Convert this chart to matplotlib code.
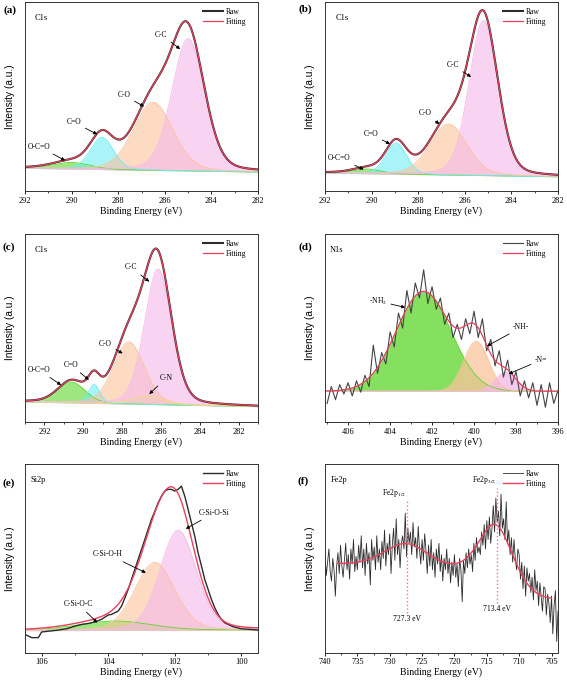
import numpy as np
import matplotlib
matplotlib.use('Agg')
import matplotlib.pyplot as plt
from matplotlib.ticker import MultipleLocator

plt.rcParams['font.family'] = 'serif'
plt.rcParams['font.serif'] = ['Liberation Serif', 'DejaVu Serif']
plt.rcParams['mathtext.fontset'] = 'stix'

# ---- data (intensity in fractions of the panel height) ----
# (a) C1s
a_names = ['O-C=O', 'C=O', 'C-O', 'C-C']
a_center = [290.0, 288.7, 286.5, 285.0]
a_height = [0.035, 0.17, 0.36, 0.70]
a_width = [0.8, 0.5, 0.85, 0.7]
a_base = [0.12, 0.10]

# (b) C1s
b_names = ['O-C=O', 'C=O', 'C-O', 'C-C']
b_center = [290.2, 288.95, 286.7, 285.2]
b_height = [0.025, 0.165, 0.27, 0.82]
b_width = [0.6, 0.45, 0.8, 0.62]
b_base = [0.095, 0.075]

# (c) C1s
c_names = ['O-C=O', 'C=O', 'C-O', 'C-N', 'C-C']
c_center = [290.6, 289.45, 287.65, 286.7, 286.15]
c_height = [0.11, 0.10, 0.33, 0.045, 0.72]
c_width = [0.7, 0.3, 0.8, 0.8, 0.7]
c_base = [0.108, 0.083]

# (d) N1s
d_names = ['-NH$_2$', '-NH-', '-N=']
d_center = [402.4, 399.9, 398.5]
d_height = [0.53, 0.265, 0.10]
d_width = [1.3, 0.6, 0.5]
d_base = [0.165, 0.165]
d_raw = [0.10, 0.19, 0.12, 0.20, 0.15, 0.21, 0.14, 0.22, 0.16, 0.25,
         0.19, 0.41, 0.26, 0.37, 0.31, 0.48, 0.40, 0.58, 0.50, 0.70,
         0.58, 0.74, 0.66, 0.81, 0.63, 0.72, 0.60, 0.66, 0.52, 0.58,
         0.45, 0.52, 0.44, 0.55, 0.47, 0.59, 0.45, 0.55, 0.38, 0.44,
         0.30, 0.38, 0.24, 0.33, 0.20, 0.27, 0.14, 0.22, 0.13, 0.21,
         0.09, 0.20, 0.08, 0.21, 0.10, 0.17]

# (e) Si2p
e_names = ['C-Si-O-C', 'C-Si-O-H', 'C-Si-O-Si']
e_center = [103.8, 102.6, 101.9]
e_height = [0.05, 0.36, 0.53]
e_width = [1.1, 0.6, 0.55]
e_base = [0.117, 0.12]
e_raw_x = [106.5, 106.3, 106.1, 106.0, 105.75, 105.5, 105.25, 105.0, 104.8, 104.6,
           104.4, 104.2, 104.0, 103.9, 103.8, 103.7, 103.6, 103.5, 103.4, 103.3,
           103.2, 103.1, 103.0, 102.9, 102.8, 102.7, 102.6, 102.5, 102.4, 102.3,
           102.2, 102.1, 102.0, 101.9, 101.8, 101.7, 101.6, 101.5, 101.4, 101.3,
           101.2, 101.1, 101.0, 100.9, 100.8, 100.7, 100.6, 100.5, 100.25, 100.0,
           99.75, 99.5]
e_raw = [0.097, 0.080, 0.080, 0.11, 0.115, 0.12, 0.127, 0.141, 0.150, 0.155,
         0.163, 0.177, 0.20, 0.203, 0.212, 0.221, 0.247, 0.29, 0.336, 0.389,
         0.442, 0.495, 0.548, 0.60, 0.654, 0.707, 0.75, 0.795, 0.83, 0.857,
         0.866, 0.866, 0.857, 0.866, 0.883, 0.83, 0.76, 0.689, 0.618, 0.53,
         0.46, 0.389, 0.336, 0.283, 0.239, 0.203, 0.177, 0.159, 0.138, 0.127,
         0.124, 0.12]

# (f) Fe2p
f_peaks = [727.3, 713.4]
f_center = [727.5, 713.6]
f_height = [0.13, 0.29]
f_width = [3.5, 2.6]
f_bg_low, f_bg_high, f_bg_slope, f_step_at, f_step_w = 0.27, 0.43, 0.002, 711.0, 2.0
f_raw = [0.52, 0.41, 0.48, 0.55, 0.43,  0.38, 0.50, 0.44, 0.30, 0.46,
         0.53, 0.42, 0.57, 0.46, 0.40,  0.49, 0.58, 0.44, 0.52, 0.39,
         0.55, 0.47, 0.60, 0.43, 0.51,  0.44, 0.57, 0.48, 0.62, 0.45,
         0.55, 0.41, 0.58, 0.47, 0.53,  0.36, 0.60, 0.49, 0.56, 0.44,
         0.62, 0.48, 0.55, 0.44, 0.59,  0.50, 0.65, 0.46, 0.58, 0.52,
         0.63, 0.42, 0.57, 0.66, 0.49,  0.71, 0.52, 0.60, 0.45, 0.58,
         0.62, 0.55, 0.74, 0.51, 0.66,  0.58, 0.64, 0.52, 0.69, 0.56,
         0.61, 0.50, 0.67, 0.55, 0.47,  0.60, 0.49, 0.63, 0.54, 0.42,
         0.57, 0.46, 0.60, 0.44, 0.53,  0.40, 0.55, 0.47, 0.58, 0.43,
         0.52, 0.38, 0.50, 0.44, 0.55,  0.42, 0.50, 0.37, 0.48, 0.41,
         0.52, 0.40, 0.47, 0.35, 0.50,  0.44, 0.27, 0.49, 0.42, 0.53,
         0.45, 0.55, 0.47, 0.52, 0.43,  0.58, 0.49, 0.61, 0.53, 0.56,
         0.52, 0.64, 0.57, 0.68, 0.55,  0.70, 0.60, 0.72, 0.58, 0.66,
         0.78, 0.64, 0.82, 0.69, 0.75,  0.62, 0.84, 0.66, 0.71, 0.60,
         0.80, 0.58, 0.65, 0.52, 0.61,  0.48, 0.60, 0.50, 0.44, 0.55,
         0.52, 0.39, 0.48, 0.34, 0.46,  0.30, 0.45, 0.38, 0.42, 0.32,
         0.40, 0.28, 0.44, 0.33, 0.38,  0.25, 0.37, 0.30, 0.22, 0.35,
         0.34, 0.20, 0.31, 0.26, 0.16,  0.30, 0.10, 0.25, 0.33, 0.06,
         0.22]

GREEN, CYAN, ORANGE, PINK, YELLOW = '#5ed62a', '#6eeef6', '#fcc39c', '#f6b8ea', '#ece27a'
RAW_C, FIT_C = '#2b2b2b', '#e8405e'


def pv(x, c, h, w, eta):
    '''pseudo-Voigt peak'''
    g = np.exp(-(x - c)**2 / (2 * w**2))
    lo = 1.0 / (1.0 + ((x - c) / (1.1774 * w))**2)
    return h * ((1 - eta) * g + eta * lo)


def components(ax, x, bg, centers, heights, widths, colors, eta, alpha=0.6):
    total = bg.copy()
    for c, h, w, col in zip(centers, heights, widths, colors):
        y = pv(x, c, h, w, eta)
        ax.fill_between(x, bg, bg + y, color=col, alpha=alpha, lw=0)
        ax.plot(x, bg + y, color=col, lw=0.6)
        total += y
    return total


def setup(ax, xlim, major, minor, core, core_x, letter, lx, ly):
    ax.set_xlim(*xlim)
    ax.set_ylim(0, 1)
    ax.set_yticks([])
    ax.xaxis.set_major_locator(MultipleLocator(major))
    ax.xaxis.set_minor_locator(MultipleLocator(minor))
    ax.tick_params(axis='x', which='major', direction='out', length=2.5, width=0.6,
                   labelsize=6, pad=1.5)
    ax.tick_params(axis='x', which='minor', direction='out', length=1.5, width=0.5)
    for s in ax.spines.values():
        s.set_linewidth(0.7)
        s.set_color('#333333')
    ax.set_xlabel('Binding Energy (eV)', fontsize=7)
    ax.xaxis.set_label_coords(0.5, -0.08)
    ax.set_ylabel('Intensity (a.u.)', fontsize=7.3, family=['Liberation Sans', 'DejaVu Sans'])
    ax.yaxis.set_label_coords(-0.045, 0.5)
    ax.text(core_x, 0.915, core, transform=ax.transAxes, fontsize=6, ha='left', va='center')
    fig.text(lx / 567, 1 - ly / 686, letter, fontsize=8, fontweight='bold', ha='center', va='center')
    ax.legend(loc='upper right', bbox_to_anchor=(0.975, 1.0), frameon=False, fontsize=5.5,
              handlelength=2.6, handletextpad=0.4, labelspacing=0.25, borderaxespad=0.35)


def labels(ax, names, text_xy, tip_xy, fs=5.5):
    for n, t, p in zip(names, text_xy, tip_xy):
        ax.annotate(n, xy=p, xytext=t, fontsize=fs, ha='center', va='center',
                    arrowprops=dict(arrowstyle='-|>', lw=0.6, color='k', mutation_scale=5,
                                    shrinkA=1, shrinkB=0))


fig = plt.figure(figsize=(5.67, 6.86), dpi=100)
lefts = [25 / 567, 325 / 567]
w = 233 / 567
rows = [(0.7216, 0.2755), (0.3844, 0.2745), (0.0485, 0.275)]
ax_a = fig.add_axes([lefts[0], rows[0][0], w, rows[0][1]])
ax_b = fig.add_axes([lefts[1], rows[0][0], w, rows[0][1]])
ax_c = fig.add_axes([lefts[0], rows[1][0], w, rows[1][1]])
ax_d = fig.add_axes([lefts[1], rows[1][0], w, rows[1][1]])
ax_e = fig.add_axes([lefts[0], rows[2][0], w, rows[2][1]])
ax_f = fig.add_axes([lefts[1], rows[2][0], w, rows[2][1]])

# C1s panels
c1s = [(ax_a, (292, 282), a_center, a_height, a_width, a_base, [GREEN, CYAN, ORANGE, PINK]),
       (ax_b, (292, 282), b_center, b_height, b_width, b_base, [GREEN, CYAN, ORANGE, PINK]),
       (ax_c, (293, 281), c_center, c_height, c_width, c_base, [GREEN, CYAN, ORANGE, YELLOW, PINK])]
for ax, xl, cen, hei, wid, base, cols in c1s:
    x = np.linspace(xl[0], xl[1], 800)
    bg = base[0] + (base[1] - base[0]) * (x - xl[0]) / (xl[1] - xl[0])
    fit = components(ax, x, bg, cen, hei, wid, cols, 0.2)
    ax.plot(x, fit, color=RAW_C, lw=1.5, label='Raw')
    ax.plot(x, fit, color=FIT_C, lw=0.9, label='Fitting')

setup(ax_a, (292, 282), 2, 1, 'C1s', 0.043, '(a)', 10, 10)
labels(ax_a, a_names, [(291.38, 0.235), (289.9, 0.363), (287.75, 0.506), (286.17, 0.827)],
       [(290.28, 0.161), (288.9, 0.30), (286.89, 0.447), (285.34, 0.751)])
setup(ax_b, (292, 282), 2, 1, 'C1s', 0.047, '(b)', 305, 9)
labels(ax_b, b_names, [(291.38, 0.173), (290.03, 0.30), (287.69, 0.41), (286.52, 0.664)],
       [(290.34, 0.114), (289.21, 0.249), (287.09, 0.354), (285.73, 0.604)])
setup(ax_c, (293, 281), 2, 1, 'C1s', 0.043, '(c)', 9, 247)
labels(ax_c, c_names, [(292.29, 0.278), (290.63, 0.304), (288.86, 0.418), (285.74, 0.234), (287.54, 0.823)],
       [(291.14, 0.198), (289.71, 0.225), (287.97, 0.366), (286.6, 0.15), (286.6, 0.747)])

# N1s
x = np.linspace(407.1, 396, 600)
bg = np.full_like(x, d_base[0])
fit = components(ax_d, x, bg, d_center, d_height, d_width, [GREEN, ORANGE, PINK], 0.0, alpha=0.75)
ax_d.plot(np.linspace(407.0, 396.0, len(d_raw)), d_raw, color='#444444', lw=0.8, label='Raw')
ax_d.plot(x, fit, color=FIT_C, lw=0.9, label='Fitting')
setup(ax_d, (407.1, 396), 2, 1, 'N1s', 0.022, '(d)', 305, 247)
labels(ax_d, d_names, [(404.59, 0.644), (397.75, 0.504), (396.8, 0.331)],
       [(403.28, 0.61), (399.38, 0.405), (398.35, 0.257)])

# Si2p
x = np.linspace(106.5, 99.5, 600)
bg = e_base[0] + (e_base[1] - e_base[0]) * (x - 106.5) / (99.5 - 106.5)
fit = components(ax_e, x, bg, e_center, e_height, e_width, [GREEN, ORANGE, PINK], 0.2)
ax_e.plot(e_raw_x, e_raw, color=RAW_C, lw=1.0, label='Raw')
ax_e.plot(x, fit, color=FIT_C, lw=1.0, label='Fitting')
setup(ax_e, (106.5, 99.5), 2, 1, 'Si2p', 0.022, '(e)', 9, 483)
labels(ax_e, e_names, [(104.89, 0.256), (104.01, 0.521), (100.81, 0.742)],
       [(104.33, 0.159), (102.87, 0.424), (101.67, 0.657)])

# Fe2p
x = np.linspace(738, 705, 500)
bg_high = f_bg_high + f_bg_slope * (x - 720)
bg = f_bg_low + (bg_high - f_bg_low) / (1 + np.exp(-(x - f_step_at) / f_step_w))
fit = bg + sum(pv(x, c, h, wd, 0.3) for c, h, wd in zip(f_center, f_height, f_width))
ax_f.plot(np.linspace(740, 704, len(f_raw)), f_raw, color=RAW_C, lw=0.6, label='Raw')
ax_f.plot(x, fit, color=FIT_C, lw=1.0, label='Fitting')
ax_f.vlines(f_peaks[0], 0.212, 0.804, colors='#f070a0', linestyles=':', lw=1.0)
ax_f.vlines(f_peaks[1], 0.265, 0.875, colors='#f070a0', linestyles=':', lw=1.0)
ax_f.text(f_peaks[0] + 0.2, 0.813, r'Fe2p$_{1/2}$', fontsize=5.5, ha='right', va='bottom')
ax_f.text(f_peaks[1] + 0.2, 0.883, r'Fe2p$_{3/2}$', fontsize=5.5, ha='right', va='bottom')
ax_f.text(f_peaks[0], 0.177, '%.1f eV' % f_peaks[0], fontsize=5.5, ha='center', va='center')
ax_f.text(f_peaks[1], 0.233, '%.1f eV' % f_peaks[1], fontsize=5.5, ha='center', va='center')
setup(ax_f, (740, 704), 5, 2.5, 'Fe2p', 0.025, '(f)', 303, 481)

fig.savefig('out.png', dpi=100)
